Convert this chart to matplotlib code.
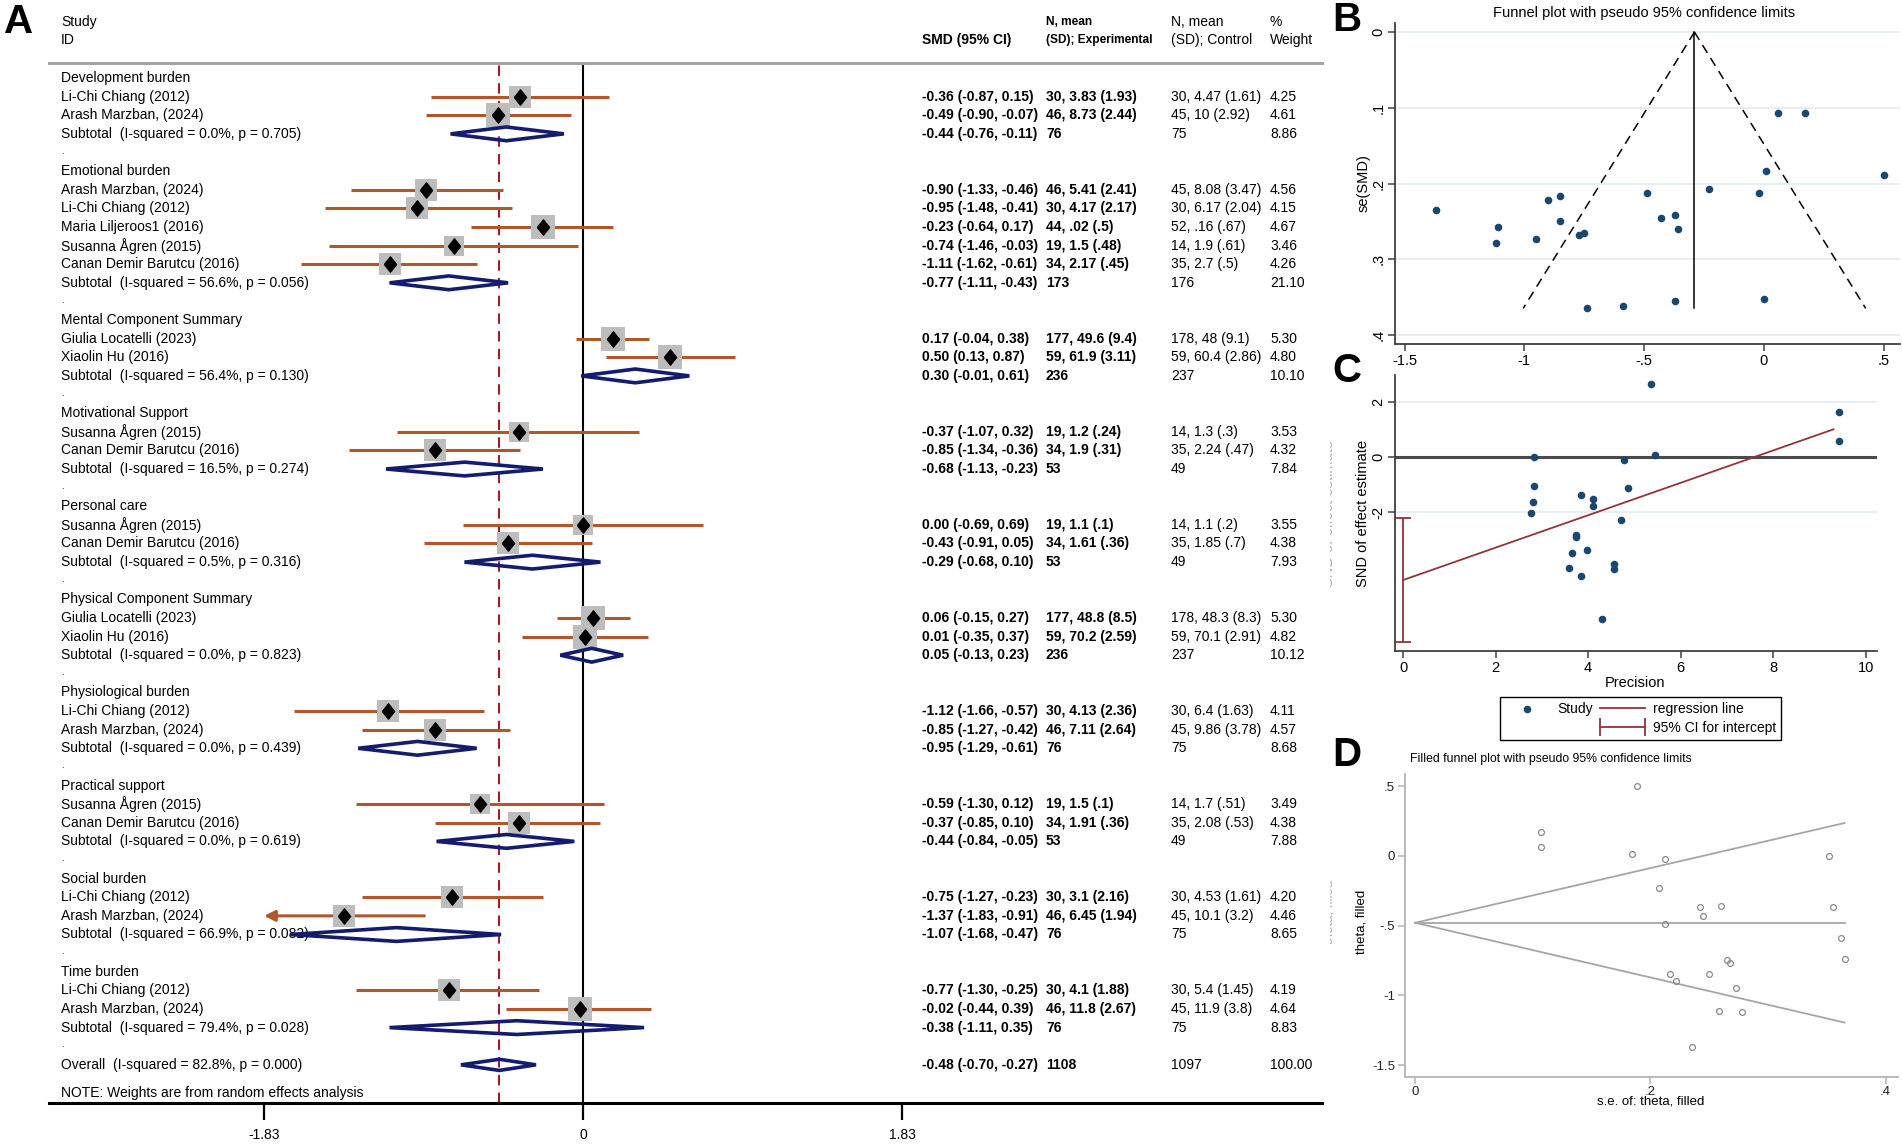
import matplotlib
matplotlib.use("Agg")
import matplotlib.pyplot as plt
import matplotlib.transforms as mtransforms
from matplotlib.lines import Line2D
from matplotlib.patches import Rectangle
from matplotlib.legend_handler import HandlerLine2D

plt.rcParams['font.family'] = ['Liberation Sans', 'DejaVu Sans']

# ---------------- panel A: forest plot data ----------------
group_names = ["Development burden", "Emotional burden", "Mental Component Summary",
               "Motivational Support", "Personal care", "Physical Component Summary",
               "Physiological burden", "Practical support", "Social burden", "Time burden"]

study_names = ["Li-Chi Chiang (2012)", "Arash Marzban, (2024)",
               "Arash Marzban, (2024)", "Li-Chi Chiang (2012)", "Maria Liljeroos1 (2016)",
               "Susanna Ågren (2015)", "Canan Demir Barutcu (2016)",
               "Giulia Locatelli (2023)", "Xiaolin Hu (2016)",
               "Susanna Ågren (2015)", "Canan Demir Barutcu (2016)",
               "Susanna Ågren (2015)", "Canan Demir Barutcu (2016)",
               "Giulia Locatelli (2023)", "Xiaolin Hu (2016)",
               "Li-Chi Chiang (2012)", "Arash Marzban, (2024)",
               "Susanna Ågren (2015)", "Canan Demir Barutcu (2016)",
               "Li-Chi Chiang (2012)", "Arash Marzban, (2024)",
               "Li-Chi Chiang (2012)", "Arash Marzban, (2024)"]
study_group = [0, 0, 1, 1, 1, 1, 1, 2, 2, 3, 3, 4, 4, 5, 5, 6, 6, 7, 7, 8, 8, 9, 9]
study_smd = [-0.36, -0.49, -0.90, -0.95, -0.23, -0.74, -1.11, 0.17, 0.50, -0.37, -0.85,
             0.00, -0.43, 0.06, 0.01, -1.12, -0.85, -0.59, -0.37, -0.75, -1.37, -0.77, -0.02]
study_lo = [-0.87, -0.90, -1.33, -1.48, -0.64, -1.46, -1.62, -0.04, 0.13, -1.07, -1.34,
            -0.69, -0.91, -0.15, -0.35, -1.66, -1.27, -1.30, -0.85, -1.27, -1.83, -1.30, -0.44]
study_hi = [0.15, -0.07, -0.46, -0.41, 0.17, -0.03, -0.61, 0.38, 0.87, 0.32, -0.36,
            0.69, 0.05, 0.27, 0.37, -0.57, -0.42, 0.12, 0.10, -0.23, -0.91, -0.25, 0.39]
study_weight = [4.25, 4.61, 4.56, 4.15, 4.67, 3.46, 4.26, 5.30, 4.80, 3.53, 4.32,
                3.55, 4.38, 5.30, 4.82, 4.11, 4.57, 3.49, 4.38, 4.20, 4.46, 4.19, 4.64]
study_exp = ["30, 3.83 (1.93)", "46, 8.73 (2.44)", "46, 5.41 (2.41)", "30, 4.17 (2.17)",
             "44, .02 (.5)", "19, 1.5 (.48)", "34, 2.17 (.45)", "177, 49.6 (9.4)",
             "59, 61.9 (3.11)", "19, 1.2 (.24)", "34, 1.9 (.31)", "19, 1.1 (.1)",
             "34, 1.61 (.36)", "177, 48.8 (8.5)", "59, 70.2 (2.59)", "30, 4.13 (2.36)",
             "46, 7.11 (2.64)", "19, 1.5 (.1)", "34, 1.91 (.36)", "30, 3.1 (2.16)",
             "46, 6.45 (1.94)", "30, 4.1 (1.88)", "46, 11.8 (2.67)"]
study_ctrl = ["30, 4.47 (1.61)", "45, 10 (2.92)", "45, 8.08 (3.47)", "30, 6.17 (2.04)",
              "52, .16 (.67)", "14, 1.9 (.61)", "35, 2.7 (.5)", "178, 48 (9.1)",
              "59, 60.4 (2.86)", "14, 1.3 (.3)", "35, 2.24 (.47)", "14, 1.1 (.2)",
              "35, 1.85 (.7)", "178, 48.3 (8.3)", "59, 70.1 (2.91)", "30, 6.4 (1.63)",
              "45, 9.86 (3.78)", "14, 1.7 (.51)", "35, 2.08 (.53)", "30, 4.53 (1.61)",
              "45, 10.1 (3.2)", "30, 5.4 (1.45)", "45, 11.9 (3.8)"]

sub_het = ["0.0%, p = 0.705", "56.6%, p = 0.056", "56.4%, p = 0.130", "16.5%, p = 0.274",
           "0.5%, p = 0.316", "0.0%, p = 0.823", "0.0%, p = 0.439", "0.0%, p = 0.619",
           "66.9%, p = 0.082", "79.4%, p = 0.028"]
sub_smd = [-0.44, -0.77, 0.30, -0.68, -0.29, 0.05, -0.95, -0.44, -1.07, -0.38]
sub_lo = [-0.76, -1.11, -0.01, -1.13, -0.68, -0.13, -1.29, -0.84, -1.68, -1.11]
sub_hi = [-0.11, -0.43, 0.61, -0.23, 0.10, 0.23, -0.61, -0.05, -0.47, 0.35]
sub_n_exp = [76, 173, 236, 53, 53, 236, 76, 53, 76, 76]
sub_n_ctrl = [75, 176, 237, 49, 49, 237, 75, 49, 75, 75]
sub_weight = [8.86, 21.10, 10.10, 7.84, 7.93, 10.12, 8.68, 7.88, 8.65, 8.83]

overall_het = "82.8%, p = 0.000"
overall_smd, overall_lo, overall_hi = -0.48, -0.70, -0.27
overall_n_exp, overall_n_ctrl, overall_weight = 1108, 1097, 100.00

forest_ticks = [-1.83, 0, 1.83]

# ---------------- panel B: funnel plot ----------------
funnel_se = [0.260, 0.212, 0.222, 0.273, 0.207, 0.365, 0.258, 0.107, 0.189, 0.355, 0.250,
             0.352, 0.245, 0.107, 0.184, 0.278, 0.217, 0.362, 0.242, 0.265, 0.235, 0.268, 0.212]
funnel_center = -0.29
funnel_left = [-0.29, -1.005]
funnel_right = [-0.29, 0.425]
funnel_se_ends = [0.0, 0.365]

# ---------------- panel C: Egger / Galbraith ----------------
precision = [2.84, 2.83, 2.80, 2.76, 3.84, 4.11, 4.10, 4.77, 5.44, 4.87, 4.70, 3.73,
             3.73, 3.66, 3.97, 3.59, 3.85, 4.56, 4.55, 4.29, 5.35, 9.42, 9.42]
snd = [0.00, -1.05, -1.64, -2.03, -1.38, -1.53, -1.76, -0.12, 0.07, -1.13, -2.29, -2.80,
       -2.89, -3.47, -3.37, -4.02, -4.28, -3.85, -4.05, -5.85, 2.65, 1.62, 0.57]
reg_x = [0.0, 9.3]
reg_y = [-4.44, 1.0]
intercept_ci = [-6.68, -2.19]

# ---------------- panel D: filled funnel ----------------
filled_line_se = [0.0, 0.365]
filled_center = [-0.48, -0.48]
filled_upper = [-0.48, 0.235]
filled_lower = [-0.48, -1.195]

W, H = 1902, 1147
fig = plt.figure(figsize=(W / 100, H / 100), dpi=100)
fig.patch.set_facecolor('white')

navy = '#1a476f'
maroon = '#90353b'
ci_brown = '#b0582b'
diam_navy = '#141c6e'


def fx(px):
    return px / W


def fy(py):
    return 1 - py / H


# ======== A ========
axA = fig.add_axes([fx(49), fy(1103), fx(1322) - fx(49), fy(63) - fy(1103)])
axA.set_xlim(-3.064, 4.240)
axA.set_ylim(56.05, 0.194)
for s in ['left', 'right']:
    axA.spines[s].set_visible(False)
axA.spines['top'].set_color('#a3a3a3')
axA.spines['top'].set_linewidth(2.2)
axA.spines['bottom'].set_color('black')
axA.spines['bottom'].set_linewidth(2.2)
axA.set_yticks([])
axA.set_xticks(forest_ticks)
axA.set_xticklabels(['-1.83', '0', '1.83'], fontsize=10)
axA.tick_params(axis='x', length=12, width=1.6, pad=6, direction='out')

trans = mtransforms.blended_transform_factory(fig.transFigure, axA.transData)
col_label, col_smd, col_exp, col_ctrl, col_wt = fx(61), fx(922), fx(1046), fx(1171), fx(1270)
fs = 10

fig.text(col_label, fy(22), "Study", fontsize=fs, va='center')
fig.text(col_label, fy(40), "ID", fontsize=fs, va='center')
fig.text(col_smd, fy(40), "SMD (95% CI)", fontsize=fs, va='center', fontweight='bold')
fig.text(col_exp, fy(22), "N, mean", fontsize=8.6, va='center', fontweight='bold')
fig.text(col_exp, fy(40), "(SD); Experimental", fontsize=8.6, va='center', fontweight='bold')
fig.text(col_ctrl, fy(22), "N, mean", fontsize=fs, va='center')
fig.text(col_ctrl, fy(40), "(SD); Control", fontsize=fs, va='center')
fig.text(col_wt, fy(22), "%", fontsize=fs, va='center')
fig.text(col_wt, fy(40), "Weight", fontsize=fs, va='center')

axA.axvline(0, color='black', lw=1.5, zorder=1)
axA.axvline(overall_smd, color='#9b1f2b', lw=1.5, ls=(0, (5, 3.5)), zorder=1)

diamond_marker = [(-0.8, 0), (0, 1), (0.8, 0), (0, -1), (-0.8, 0)]
x_clip = forest_ticks[0]


def row_text(row, label, smd_txt, exp_txt, ctrl_txt, wt_txt):
    axA.text(col_label, row, label, transform=trans, fontsize=fs, va='center', zorder=2)
    axA.text(col_smd, row, smd_txt, transform=trans, fontsize=fs, va='center', fontweight='bold')
    axA.text(col_exp, row, exp_txt, transform=trans, fontsize=fs, va='center', fontweight='bold')
    axA.text(col_ctrl, row, ctrl_txt, transform=trans, fontsize=fs, va='center')
    axA.text(col_wt, row, wt_txt, transform=trans, fontsize=fs, va='center')


def pooled_diamond(row, est, lo, hi, half):
    axA.fill([lo, est, hi, est, lo], [row, row - half, row, row + half, row],
             fill=False, edgecolor=diam_navy, lw=2.6, joinstyle='miter', zorder=6)


row = 1
for g, gname in enumerate(group_names):
    axA.text(col_label, row, gname, transform=trans, fontsize=fs, va='center')
    row += 1
    for k in range(len(study_names)):
        if study_group[k] != g:
            continue
        lo = max(study_lo[k], x_clip)
        if study_lo[k] <= x_clip:
            axA.annotate('', xy=(lo, row), xytext=(study_hi[k], row),
                         arrowprops=dict(arrowstyle='-|>', color=ci_brown, lw=2.2,
                                         mutation_scale=16, shrinkA=0, shrinkB=0), zorder=3)
        else:
            axA.plot([lo, study_hi[k]], [row, row], color=ci_brown, lw=2.2,
                     solid_capstyle='butt', zorder=3)
        axA.scatter([study_smd[k]], [row], s=60 * study_weight[k], marker='s',
                    color='#bdbdbd', linewidths=0, zorder=4)
        axA.plot([study_smd[k]], [row], marker=diamond_marker, ms=11, color='black',
                 ls='none', zorder=5)
        row_text(row, study_names[k],
                 f"{study_smd[k]:.2f} ({study_lo[k]:.2f}, {study_hi[k]:.2f})",
                 study_exp[k], study_ctrl[k], f"{study_weight[k]:.2f}")
        row += 1
    pooled_diamond(row, sub_smd[g], sub_lo[g], sub_hi[g], 0.37)
    row_text(row, f"Subtotal  (I-squared = {sub_het[g]})",
             f"{sub_smd[g]:.2f} ({sub_lo[g]:.2f}, {sub_hi[g]:.2f})",
             str(sub_n_exp[g]), str(sub_n_ctrl[g]), f"{sub_weight[g]:.2f}")
    row += 1
    axA.text(col_label, row - 0.1, ".", transform=trans, fontsize=7, va='center')
    row += 1

pooled_diamond(row, overall_smd, overall_lo, overall_hi, 0.30)
row_text(row, f"Overall  (I-squared = {overall_het})",
         f"{overall_smd:.2f} ({overall_lo:.2f}, {overall_hi:.2f})",
         str(overall_n_exp), str(overall_n_ctrl), f"{overall_weight:.2f}")
axA.text(col_label, row + 1.5, "NOTE: Weights are from random effects analysis",
         transform=trans, fontsize=fs, va='center')

# ======== B ========
axB = fig.add_axes([fx(1395), fy(344), fx(1900) - fx(1395), fy(23) - fy(344)])
axB.set_xlim(-1.540, 0.568)
axB.set_ylim(0.412, -0.012)
axB.set_yticks([0, 0.1, 0.2, 0.3, 0.4])
axB.set_yticklabels(['0', '.1', '.2', '.3', '.4'], rotation=90, va='center')
axB.set_xticks([-1.5, -1, -0.5, 0, 0.5])
axB.set_xticklabels(['-1.5', '-1', '-.5', '0', '.5'])
axB.grid(axis='y', color='#e4edf0', lw=1.3)
axB.set_axisbelow(True)
axB.plot(funnel_left, funnel_se_ends, color='black', lw=1.1, ls=(0, (6, 4)))
axB.plot(funnel_right, funnel_se_ends, color='black', lw=1.1, ls=(0, (6, 4)))
axB.plot([funnel_center, funnel_center], funnel_se_ends, color='black', lw=1.1)
axB.scatter(study_smd, funnel_se, s=30, color=navy, zorder=3, linewidths=0)

# ======== C ========
axC = fig.add_axes([fx(1395), fy(651), fx(1877) - fx(1395), fy(375) - fy(651)])
axC.set_xlim(-0.173, 10.24)
axC.set_ylim(-7.0, 2.96)
axC.set_yticks([-2, 0, 2])
axC.set_yticklabels(['-2', '0', '2'], rotation=90, va='center')
axC.set_xticks([0, 2, 4, 6, 8, 10])
axC.grid(axis='y', color='#e4edf0', lw=1.3)
axC.set_axisbelow(True)
axC.axhline(0, color='#4a4a4a', lw=2.2, zorder=1)
pts = axC.scatter(precision, snd, s=30, color=navy, zorder=3, linewidths=0, label='Study')
reg_h, = axC.plot(reg_x, reg_y, color=maroon, lw=1.3, zorder=2, label='regression line')
mid = (intercept_ci[0] + intercept_ci[1]) / 2
axC.errorbar([0], [mid], yerr=[[mid - intercept_ci[0]], [intercept_ci[1] - mid]], fmt='none',
             ecolor=maroon, elinewidth=1.3, capsize=6, capthick=1.3, zorder=2, clip_on=False)

for ax in (axB, axC):
    for s in ['top', 'right']:
        ax.spines[s].set_visible(False)
    for s in ['left', 'bottom']:
        ax.spines[s].set_color('#404040')
        ax.spines[s].set_linewidth(1.3)
    ax.tick_params(length=5, width=1.1, color='#404040', labelsize=10.5, pad=2)

fig.text(fx(1644), fy(13), "Funnel plot with pseudo 95% confidence limits", fontsize=10.5,
         ha='center', va='center')
fig.text(fx(1364), fy(183), "se(SMD)", fontsize=10.5, rotation=90, ha='center', va='center')
fig.text(fx(1363), fy(513), "SND of effect estimate", fontsize=10.5, rotation=90,
         ha='center', va='center')
fig.text(fx(1635), fy(683), "Precision", fontsize=10.5, ha='center', va='center')

# faint, half-cut copies of axis titles left over from the composed figure
clip_rect = Rectangle((fx(1330), 0), 1, 1, transform=fig.transFigure, visible=False)
fig.add_artist(clip_rect)
for txt, y, size in [("SND of effect estimate", 513, 10.5), ("theta, filled", 912, 9.5)]:
    t = fig.text(fx(1329), fy(y), txt, fontsize=size, rotation=90, ha='center', va='center',
                 color='#b0b0b0')
    t.set_clip_path(clip_rect)

ci_h = Line2D([], [], color=maroon, lw=1.3, marker='|', ms=13, mew=1.3,
              label='95% CI for intercept')
blank = Line2D([], [], color='none', label=' ')
leg = fig.legend([pts, blank, reg_h, ci_h], ['Study', ' ', 'regression line', '95% CI for intercept'],
                 ncol=2, loc='upper left', bbox_to_anchor=(fx(1500), fy(697)),
                 frameon=True, fancybox=False, edgecolor='black', framealpha=1,
                 fontsize=10, handlelength=3.2, handletextpad=0.6, columnspacing=0.5,
                 labelspacing=0.35, borderpad=0.35, scatterpoints=1, borderaxespad=0,
                 handler_map={ci_h: HandlerLine2D(numpoints=2, marker_pad=0)})
leg.get_frame().set_linewidth(1.0)

# ======== D ========
axD = fig.add_axes([fx(1404.6), fy(1076.7), fx(1897.5) - fx(1404.6), fy(774) - fy(1076.7)])
axD.set_xlim(-0.0089, 0.41)
axD.set_ylim(-1.583, 0.586)
axD.set_yticks([0.5, 0, -0.5, -1, -1.5])
axD.set_yticklabels(['.5', '0', '-.5', '-1', '-1.5'])
axD.set_xticks([0, 0.2, 0.4])
axD.set_xticklabels(['0', '.2', '.4'])
for s in ['top', 'right']:
    axD.spines[s].set_visible(False)
for s in ['left', 'bottom']:
    axD.spines[s].set_color('#b4b4b4')
    axD.spines[s].set_linewidth(1.3)
axD.tick_params(length=5, width=1.1, color='#b4b4b4', labelsize=9.5, pad=2, labelcolor='#222222')
axD.plot(filled_line_se, filled_upper, color='#a6a6a6', lw=1.3)
axD.plot(filled_line_se, filled_lower, color='#a6a6a6', lw=1.3)
axD.plot(filled_line_se, filled_center, color='#a6a6a6', lw=1.3)
axD.plot(funnel_se, study_smd, ls='none', marker='o', ms=4.2, mfc='none', mec='#8a8a8a', mew=0.9)
fig.text(fx(1551), fy(759), "Filled funnel plot with pseudo 95% confidence limits", fontsize=8.8,
         ha='center', va='center')
fig.text(fx(1361), fy(922), "theta, filled", fontsize=9.5, rotation=90, ha='center', va='center')
fig.text(fx(1651), fy(1102), "s.e. of: theta, filled", fontsize=9.5, ha='center', va='center')

# panel letters
for letter, x, y in [('A', 19, 22), ('B', 1347, 20), ('C', 1347, 371), ('D', 1347, 755)]:
    fig.text(fx(x), fy(y), letter, fontsize=29, fontweight='bold', ha='center', va='center')

fig.savefig('out.png', dpi=100)
